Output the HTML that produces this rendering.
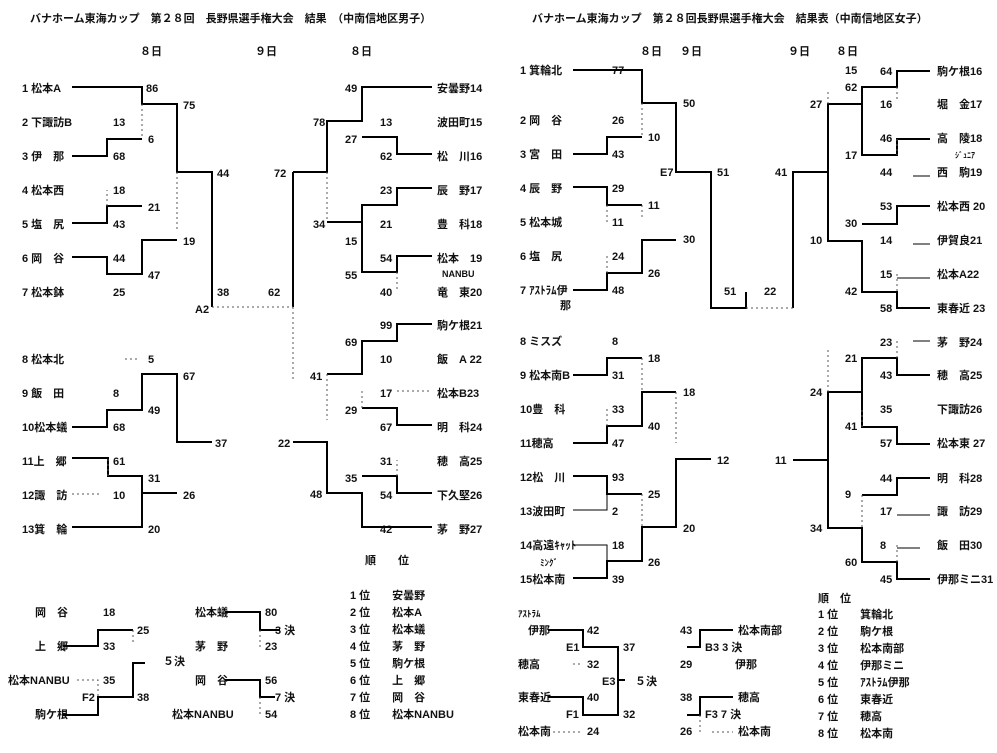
<!DOCTYPE html>
<html><head><meta charset="utf-8"><style>
html,body{margin:0;padding:0;background:#fff}
svg{display:block}
text{font-family:"Liberation Sans","Noto Sans CJK JP",sans-serif;font-size:11px;font-weight:bold;fill:#111}
.l{stroke:#000;stroke-width:2;fill:none}
.t{stroke:#000;stroke-width:1;fill:none}
.d{stroke:#555;stroke-width:1;fill:none;stroke-dasharray:2,3}
</style></head><body>
<svg width="997" height="753" viewBox="0 0 997 753" xmlns="http://www.w3.org/2000/svg">
<text x="30" y="22">バナホーム東海カップ　第２８回　長野県選手権大会　結果　（中南信地区男子）</text>
<text x="532" y="22">バナホーム東海カップ　第２８回長野県選手権大会　結果表（中南信地区女子）</text>
<text x="140" y="55">８日</text><text x="255" y="55">９日</text><text x="350" y="55">８日</text>
<text x="640" y="55">８日</text><text x="680" y="55">９日</text><text x="788" y="55">９日</text><text x="836" y="55">８日</text>

<g>
<text x="22" y="92">1 松本A</text><text x="22" y="126">2 下諏訪B</text><text x="22" y="160">3 伊　那</text><text x="22" y="194">4 松本西</text><text x="22" y="228">5 塩　尻</text><text x="22" y="262">6 岡　谷</text><text x="22" y="296">7 松本鉢</text>
<text x="146" y="92">86</text><text x="183" y="109">75</text><text x="113" y="126">13</text><text x="148" y="143">6</text><text x="113" y="160">68</text>
<text x="113" y="194">18</text><text x="148" y="211">21</text><text x="113" y="228">43</text><text x="183" y="245">19</text><text x="113" y="262">44</text><text x="148" y="279">47</text><text x="113" y="296">25</text>
<text x="217" y="177">44</text><text x="217" y="296">38</text><text x="195" y="313">A2</text><text x="268" y="296">62</text><text x="274" y="177">72</text>
<text x="313" y="126">78</text><text x="313" y="228">34</text>
<text x="345" y="92">49</text><text x="345" y="143">27</text><text x="345" y="245">15</text><text x="345" y="279">55</text>
<text x="380" y="126">13</text><text x="380" y="160">62</text><text x="380" y="194">23</text><text x="380" y="228">21</text><text x="380" y="262">54</text><text x="380" y="296">40</text>
<text x="437" y="92">安曇野14</text><text x="437" y="126">波田町15</text><text x="437" y="160">松　川16</text><text x="437" y="194">辰　野17</text><text x="437" y="228">豊　科18</text><text x="437" y="262">松本　19</text><text x="442" y="277" style="font-size:9px">NANBU</text><text x="437" y="296">竜　東20</text>
</g>
<path class="l" d="M72 87H142V104H177V172H212V307M72 156H107V139H142M72 223H107V206H142M72 257H107V274H142V240H177M293 172V307M293 172H327V121H362V87H432M362 137H397V154H432M432 188H397V205H362V272H397V256H432M327 222H362"/>
<path class="d" d="M212 307H293M142 104V139M107 206V190M177 172V230M327 172V222M397 272V290M293 307V380"/>

<g>
<text x="22" y="363">8 松本北</text><text x="22" y="397">9 飯　田</text><text x="22" y="431">10松本蟻</text><text x="22" y="465">11上　郷</text><text x="22" y="499">12諏　訪</text><text x="22" y="533">13箕　輪</text>
<text x="148" y="363">5</text><text x="183" y="380">67</text><text x="113" y="397">8</text><text x="148" y="414">49</text><text x="113" y="431">68</text><text x="215" y="447">37</text>
<text x="113" y="465">61</text><text x="148" y="482">31</text><text x="183" y="499">26</text><text x="113" y="499">10</text><text x="148" y="533">20</text>
<text x="278" y="447">22</text><text x="310" y="380">41</text><text x="310" y="498">48</text>
<text x="345" y="346">69</text><text x="345" y="414">29</text><text x="345" y="482">35</text>
<text x="380" y="329">99</text><text x="380" y="363">10</text><text x="380" y="397">17</text><text x="380" y="431">67</text><text x="380" y="465">31</text><text x="380" y="499">54</text><text x="380" y="533">42</text>
<text x="437" y="329">駒ケ根21</text><text x="437" y="363">飯　A 22</text><text x="437" y="397">松本B23</text><text x="437" y="431">明　科24</text><text x="437" y="465">穂　高25</text><text x="437" y="499">下久堅26</text><text x="437" y="533">茅　野27</text>
</g>
<path class="l" d="M72 427H107V410H142V374H177V442H212M72 458H108V476H142V493H177M72 527H142V476M293 442H327V493H362V527H432M432 324H397V341H362V374H327M362 408H397V425H432M362 476H397V493H432"/>
<path class="d" d="M108 476V458M397 391H432M327 374V420M362 408V390M397 476V460M72 494H102M125 359H138"/>

<text x="365" y="564">順　　位</text>
<text x="350" y="599">1 位　　安曇野</text><text x="350" y="616">2 位　　松本A</text><text x="350" y="633">3 位　　松本蟻</text><text x="350" y="650">4 位　　茅　野</text><text x="350" y="667">5 位　　駒ケ根</text><text x="350" y="684">6 位　　上　郷</text><text x="350" y="701">7 位　　岡　谷</text><text x="350" y="718">8 位　　松本NANBU</text>
<text x="35" y="616">岡　谷</text><text x="103" y="616">18</text><text x="35" y="650">上　郷</text><text x="103" y="650">33</text><text x="137" y="634">25</text>
<text x="8" y="684">松本NANBU</text><text x="103" y="684">35</text><text x="82" y="701">F2</text><text x="137" y="701">38</text><text x="35" y="718">駒ケ根</text><text x="163" y="665">５決</text>
<text x="195" y="616">松本蟻</text><text x="265" y="616">80</text><text x="275" y="634">3 決</text><text x="195" y="650">茅　野</text><text x="265" y="650">23</text>
<text x="195" y="684">岡　谷</text><text x="265" y="684">56</text><text x="275" y="701">7 決</text><text x="172" y="718">松本NANBU</text><text x="265" y="718">54</text>
<path class="l" d="M63 646H98V630H133M63 715H98V697H133V663H145M225 612H260V630H280M225 680H260V697H275"/>
<path class="d" d="M77 680H98V697M260 630V647M260 697V715M133 630V645"/>

<g>
<text x="520" y="74">1 箕輪北</text><text x="520" y="124">2 岡　谷</text><text x="520" y="158">3 宮　田</text><text x="520" y="192">4 辰　野</text><text x="520" y="226">5 松本城</text><text x="520" y="260">6 塩　尻</text><text x="520" y="294">7 ｱｽﾄﾗﾑ伊</text><text x="560" y="309">那</text>
<text x="612" y="74">77</text><text x="612" y="124">26</text><text x="612" y="158">43</text><text x="612" y="192">29</text><text x="612" y="226">11</text><text x="612" y="260">24</text><text x="612" y="294">48</text>
<text x="648" y="141">10</text><text x="648" y="209">11</text><text x="648" y="277">26</text><text x="683" y="107">50</text><text x="683" y="243">30</text><text x="660" y="176">E7</text>
<text x="717" y="176">51</text><text x="724" y="295">51</text><text x="764" y="295">22</text><text x="775" y="176">41</text>
<text x="810" y="108">27</text><text x="810" y="244">10</text><text x="845" y="74">15</text><text x="845" y="91">62</text><text x="845" y="159">17</text><text x="845" y="227">30</text><text x="845" y="295">42</text>
<text x="880" y="75">64</text><text x="880" y="108">16</text><text x="880" y="142">46</text><text x="880" y="176">44</text><text x="880" y="210">53</text><text x="880" y="244">14</text><text x="880" y="278">15</text><text x="880" y="312">58</text>
<text x="937" y="75">駒ケ根16</text><text x="937" y="108">堀　金17</text><text x="937" y="142">高　陵18</text><text x="955" y="158" style="font-size:8px">ｼﾞｭﾆｱ</text><text x="937" y="176">西　駒19</text><text x="937" y="210">松本西 20</text><text x="937" y="244">伊賀良21</text><text x="937" y="278">松本A22</text><text x="937" y="312">東春近 23</text>
</g>
<path class="l" d="M573 70H642V103H676V172H711V308H746V292M573 154H607V137H642M573 187H607V205H642M573 290H607V273H642V240H676M793 308V172H828V104H862V87H897V71H930M862 104V155H897V139H930M828 172V241H862V292H897V308H930M862 224H897V206H930"/>
<path class="d" d="M746 308H793M642 103V137M607 205V222M642 205V220M607 273V255M828 104V90M897 274V292M897 139V155M897 87V100"/>
<path class="t" d="M913 176H930M913 244H930M897 278H930"/>

<g>
<text x="520" y="345">8 ミスズ</text><text x="520" y="379">9 松本南B</text><text x="520" y="413">10豊　科</text><text x="520" y="447">11穂高</text><text x="520" y="481">12松　川</text><text x="520" y="515">13波田町</text><text x="520" y="549">14高遠ｷｬｯﾄ</text><text x="540" y="566" style="font-size:9px">ﾐﾝｸﾞ</text><text x="520" y="583">15松本南</text>
<text x="612" y="345">8</text><text x="612" y="379">31</text><text x="612" y="413">33</text><text x="612" y="447">47</text><text x="612" y="481">93</text><text x="612" y="515">2</text><text x="612" y="549">18</text><text x="612" y="583">39</text>
<text x="648" y="362">18</text><text x="648" y="430">40</text><text x="648" y="498">25</text><text x="648" y="566">26</text><text x="683" y="396">18</text><text x="683" y="532">20</text><text x="717" y="464">12</text><text x="775" y="464">11</text>
<text x="810" y="396">24</text><text x="810" y="532">34</text><text x="845" y="362">21</text><text x="845" y="430">41</text><text x="845" y="498">9</text><text x="845" y="566">60</text>
<text x="880" y="346">23</text><text x="880" y="379">43</text><text x="880" y="413">35</text><text x="880" y="447">57</text><text x="880" y="482">44</text><text x="880" y="515">17</text><text x="880" y="549">8</text><text x="880" y="583">45</text>
<text x="937" y="346">茅　野24</text><text x="937" y="379">穂　高25</text><text x="937" y="413">下諏訪26</text><text x="937" y="447">松本東 27</text><text x="937" y="482">明　科28</text><text x="937" y="515">諏　訪29</text><text x="937" y="549">飯　田30</text><text x="937" y="583">伊那ミニ31</text>
</g>
<path class="l" d="M573 375H607V358H642M573 443H607V426H642V392H676M573 476H607V494H642M573 578H607V561H642V527H676V459H711M793 460H828V392H862V358H897V375H930M862 392V427H897V444H930M828 460V528H862V562H897V579H930M862 495H897V478H930"/>
<path class="t" d="M573 545H607V561M573 510H607V494"/>
<path class="d" d="M642 358V392M676 392V443M642 494V527M607 426V408M897 341V358M828 392V350M862 427V410M862 495V528M897 562V545"/>
<path class="t" d="M913 341H930M897 515H930M897 548H920"/>

<text x="818" y="602">順　位</text>
<text x="818" y="618">1 位　　箕輪北</text><text x="818" y="635">2 位　　駒ケ根</text><text x="818" y="652">3 位　　松本南部</text><text x="818" y="669">4 位　　伊那ミニ</text><text x="818" y="686">5 位　　ｱｽﾄﾗﾑ伊那</text><text x="818" y="703">6 位　　東春近</text><text x="818" y="720">7 位　　穂高</text><text x="818" y="737">8 位　　松本南</text>
<text x="518" y="617" style="font-size:9px">ｱｽﾄﾗﾑ</text><text x="528" y="634">伊那</text><text x="587" y="634">42</text><text x="566" y="651">E1</text><text x="623" y="651">37</text><text x="518" y="668">穂高</text><text x="587" y="668">32</text><text x="602" y="685">E3</text><text x="635" y="685">５決</text>
<text x="518" y="701">東春近</text><text x="587" y="701">40</text><text x="566" y="718">F1</text><text x="623" y="718">32</text><text x="518" y="735">松本南</text><text x="587" y="735">24</text>
<text x="680" y="634">43</text><text x="738" y="634">松本南部</text><text x="705" y="651">B3 3 決</text><text x="680" y="668">29</text><text x="735" y="668">伊那</text>
<text x="680" y="701">38</text><text x="738" y="701">穂高</text><text x="705" y="718">F3 7 決</text><text x="680" y="735">26</text><text x="738" y="735">松本南</text>
<path class="l" d="M548 630H583V647H618V715H583V697H548M618 680H625M733 630H700V647H687M733 697H700V715H687"/>
<path class="d" d="M573 664H583M548 732H583M700 715V732M712 732H733"/>
</svg>
</body></html>
